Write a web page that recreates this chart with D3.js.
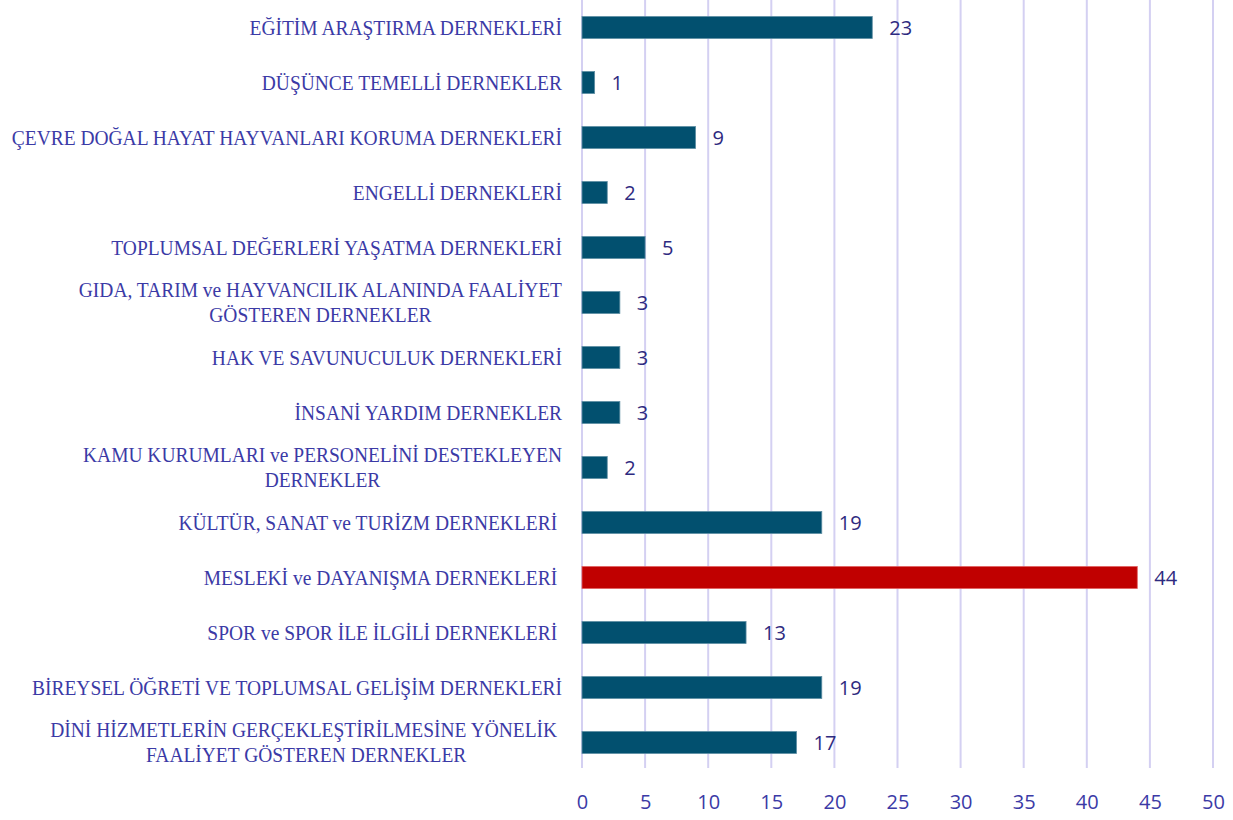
<!DOCTYPE html>
<html>
<head>
<meta charset="utf-8">
<script src="https://cdn.jsdelivr.net/npm/d3@7"></script>
<style>
  body { margin: 0; background: #fff; }
  text { white-space: pre; }
</style>
</head>
<body>
<div id="main"></div>
<script>
// ---------------- data -----------------//

let categories = [
  ['EĞİTİM ARAŞTIRMA DERNEKLERİ'],
  ['DÜŞÜNCE TEMELLİ DERNEKLER'],
  ['ÇEVRE DOĞAL HAYAT HAYVANLARI KORUMA DERNEKLERİ'],
  ['ENGELLİ DERNEKLERİ'],
  ['TOPLUMSAL DEĞERLERİ YAŞATMA DERNEKLERİ'],
  ['GIDA, TARIM ve HAYVANCILIK ALANINDA FAALİYET', 'GÖSTEREN DERNEKLER'],
  ['HAK VE SAVUNUCULUK DERNEKLERİ'],
  ['İNSANİ YARDIM DERNEKLER'],
  ['KAMU KURUMLARI ve PERSONELİNİ DESTEKLEYEN', 'DERNEKLER'],
  ['KÜLTÜR, SANAT ve TURİZM DERNEKLERİ '],
  ['MESLEKİ ve DAYANIŞMA DERNEKLERİ '],
  ['SPOR ve SPOR İLE İLGİLİ DERNEKLERİ '],
  ['BİREYSEL ÖĞRETİ VE TOPLUMSAL GELİŞİM DERNEKLERİ'],
  ['DİNİ HİZMETLERİN GERÇEKLEŞTİRİLMESİNE YÖNELİK ', 'FAALİYET GÖSTEREN DERNEKLER']
];

let values = [23, 1, 9, 2, 5, 3, 3, 3, 2, 19, 44, 13, 19, 17];

let highlight = 'MESLEKİ ve DAYANIŞMA DERNEKLERİ ';

let ticks = [0, 5, 10, 15, 20, 25, 30, 35, 40, 45, 50];

// ---------------- formatting -----------------//

let width = 1233;
let height = 820;
let plotLeft = 582;
let plotRight = 1213;
let plotTop = 0;
let plotBottom = 770;
let labelRight = 562;
let labelScaleX = 0.885;

let barColor = '#02506f';
let hiColor = '#c00000';
let textColor = '#3b3aa6';
let numColor = '#2e2a80';
let gridColor = '#d4d0f2';

let svg = d3.select('#main')
  .append('svg')
  .attr('width', width)
  .attr('height', height);

let keys = categories.map(d => d.join('|'));

let x = d3.scaleLinear()
  .domain([0, 50])
  .range([plotLeft, plotRight]);

let y = d3.scaleBand()
  .domain(keys)
  .range([plotTop, plotBottom])
  .paddingInner(0.6)
  .paddingOuter(0.3);

// gridlines
svg.append('g')
  .selectAll('line')
  .data(ticks)
  .join('line')
  .attr('x1', d => x(d))
  .attr('x2', d => x(d))
  .attr('y1', plotTop)
  .attr('y2', plotBottom - 2)
  .attr('stroke', gridColor)
  .attr('stroke-width', 2);

// x axis labels
let xAxis = d3.axisBottom(x).tickValues(ticks).tickSize(0).tickPadding(0);
let axisG = svg.append('g')
  .attr('transform', `translate(0, ${plotBottom + 25})`)
  .call(xAxis);
axisG.select('.domain').remove();
axisG.selectAll('text')
  .attr('font-family', '"Open Sans", sans-serif')
  .attr('font-size', 20)
  .attr('fill', textColor);

// bars
let rows = keys.map((k, i) => ({key: k, lines: categories[i], value: values[i]}));

svg.append('g')
  .selectAll('rect')
  .data(rows)
  .join('rect')
  .attr('x', x(0))
  .attr('y', d => y(d.key))
  .attr('width', d => x(d.value) - x(0))
  .attr('height', y.bandwidth())
  .attr('fill', d => d.lines[0] === highlight ? hiColor : barColor)
  .attr('stroke', d => d.lines[0] === highlight ? '#e06060' : '#5e8ea3')
  .attr('stroke-width', 0.8);

// value labels
svg.append('g')
  .selectAll('text')
  .data(rows)
  .join('text')
  .attr('x', d => x(d.value) + 17)
  .attr('y', d => y(d.key) + y.bandwidth() / 2)
  .attr('dy', '0.36em')
  .attr('font-family', '"Open Sans", sans-serif')
  .attr('font-size', 20)
  .attr('fill', numColor)
  .text(d => d.value);

// category labels
let lineGap = 25;
svg.append('g')
  .selectAll('g')
  .data(rows)
  .join('g')
  .attr('transform', d => `translate(${labelRight}, ${y(d.key) + y.bandwidth() / 2}) scale(${labelScaleX}, 1)`)
  .each(function(d) {
    let g = d3.select(this);
    let n = d.lines.length;
    let texts = g.selectAll('text')
      .data(d.lines)
      .join('text')
      .attr('y', (l, i) => (i - (n - 1) / 2) * lineGap)
      .attr('dy', '0.34em')
      .attr('font-family', '"Liberation Serif", serif')
      .attr('font-size', 22)
      .attr('fill', textColor)
      .text(l => l);
    let maxW = d3.max(texts.nodes(), t => t.getComputedTextLength());
    texts.attr('text-anchor', 'middle').attr('x', -maxW / 2);
  });
</script>
</body>
</html>
